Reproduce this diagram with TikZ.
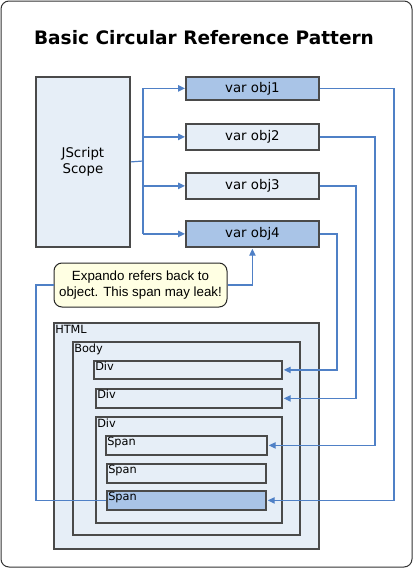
\documentclass[tikz,border=0pt]{standalone}
\usepackage{fontspec}
\setmainfont{DejaVu Sans}
\newfontfamily\arialf{Liberation Sans}
\usetikzlibrary{arrows.meta,calc}
\definecolor{boxfill}{HTML}{E6EEF7}
\definecolor{darkfill}{HTML}{A9C4E7}
\definecolor{boxline}{HTML}{4A4A4A}
\definecolor{conncol}{HTML}{4F80C6}
\definecolor{callfill}{HTML}{FFFFE3}
\tikzset{
  box/.style={draw=boxline, fill=boxfill, line width=1.35pt, inner sep=0pt, anchor=north west},
  darkbox/.style={box, fill=darkfill},
  lbl/.style={anchor=north west, inner sep=0pt, font=\fontsize{8.5pt}{10pt}\selectfont},
  vartxt/.style={font=\fontsize{10pt}{12pt}\selectfont},
  conn/.style={draw=conncol, line width=0.9pt},
  arr/.style={conn, -{Triangle[length=5.2pt,width=4.8pt]}},
}
\begin{document}
\begin{tikzpicture}[x=0.75pt,y=-0.75pt]
\useasboundingbox (0,0) rectangle (413,568);
\draw[draw=black!80, line width=0.75pt, rounded corners=6pt, fill=white] (1,1) rectangle (412,567);
\node[font=\bfseries\fontsize{13.9pt}{17pt}\selectfont] (title) at (204,38) {Basic Circular Reference Pattern};
% JScript scope
\node[box, minimum width=94*0.75pt, minimum height=170*0.75pt] (js) at (35,76) {};
\node[vartxt, align=center] (jstxt) at (js.center) {JScript\\Scope};
% var objects
\node[darkbox, minimum width=133*0.75pt, minimum height=23*0.75pt] (o1) at (185,76) {};
\node[box, minimum width=133*0.75pt, minimum height=26*0.75pt] (o2) at (185,123) {};
\node[box, minimum width=133*0.75pt, minimum height=26*0.75pt] (o3) at (185,172) {};
\node[darkbox, minimum width=133*0.75pt, minimum height=26*0.75pt] (o4) at (185,220) {};
\node[vartxt] (o1t) at (o1.center) {var obj1};
\node[vartxt] (o2t) at (o2.center) {var obj2};
\node[vartxt] (o3t) at (o3.center) {var obj3};
\node[vartxt] (o4t) at (o4.center) {var obj4};
% callout
\node[draw=black!85, fill=callfill, line width=0.75pt, rounded corners=6pt, minimum width=173*0.75pt, minimum height=44*0.75pt, align=center, font=\arialf\fontsize{10pt}{12.2pt}\selectfont, inner sep=0pt] (call) at (140.5,285) {Expando refers back to\\object. This span may leak!};
% HTML tree
\node[box, minimum width=265*0.75pt, minimum height=226*0.75pt] (html) at (53,322) {};
\node[lbl] (htmlt) at ($(html.north west)+(2,3)$) {HTML};
\node[box, minimum width=227*0.75pt, minimum height=193*0.75pt] (body) at (72,341) {};
\node[lbl] (bodyt) at ($(body.north west)+(2,3)$) {Body};
\node[box, minimum width=188*0.75pt, minimum height=18*0.75pt] (d1) at (93,360) {};
\node[lbl] (d1t) at ($(d1.north west)+(2,2)$) {Div};
\node[box, minimum width=186*0.75pt, minimum height=19*0.75pt] (d2) at (95,388) {};
\node[lbl] (d2t) at ($(d2.north west)+(2,2)$) {Div};
\node[box, minimum width=186*0.75pt, minimum height=106*0.75pt] (d3) at (95,416) {};
\node[lbl] (d3t) at ($(d3.north west)+(2,3)$) {Div};
\node[box, minimum width=161*0.75pt, minimum height=19*0.75pt] (s1) at (105,435) {};
\node[lbl] (s1t) at ($(s1.north west)+(2,2)$) {Span};
\node[box, minimum width=159*0.75pt, minimum height=19*0.75pt] (s2) at (106,463) {};
\node[lbl] (s2t) at ($(s2.north west)+(2,2)$) {Span};
\node[darkbox, minimum width=159*0.75pt, minimum height=19*0.75pt] (s3) at (106,490) {};
\node[lbl] (s3t) at ($(s3.north west)+(2,2)$) {Span};
% connectors from scope
\coordinate (bus) at (143,161);
\draw[conn] (js.east) -- (bus);
\draw[conn] (bus |- o1.west) -- (bus |- o4.west);
\draw[arr] (bus |- o1.west) -- (o1.west);
\draw[arr] (bus |- o2.west) -- (o2.west);
\draw[arr] (bus |- o3.west) -- (o3.west);
\draw[arr] (bus |- o4.west) -- (o4.west);
% connectors to DOM
\coordinate (r1) at (394,0);
\coordinate (r2) at (375,0);
\coordinate (r3) at (356,0);
\coordinate (r4) at (337,0);
\draw[arr] (o1.east) -- (r1 |- o1.east) -- (r1 |- s3.east) -- ($(s3.east)+(1,0)$);
\draw[arr] (o2.east) -- (r2 |- o2.east) -- (r2 |- s1.east) -- ($(s1.east)+(1,0)$);
\draw[arr] (o3.east) -- (r3 |- o3.east) -- (r3 |- d2.east) -- ($(d2.east)+(1,0)$);
\draw[arr] (o4.east) -- (r4 |- o4.east) -- (r4 |- d1.east) -- ($(d1.east)+(1,0)$);
% callout connectors
\draw[arr] (call.east) -| ($(o4.south)+(0,1)$);
\coordinate (l1) at (36,0);
\draw[conn] (call.west) -| (l1 |- s3.west) -- (s3.west);
\end{tikzpicture}
\end{document}
